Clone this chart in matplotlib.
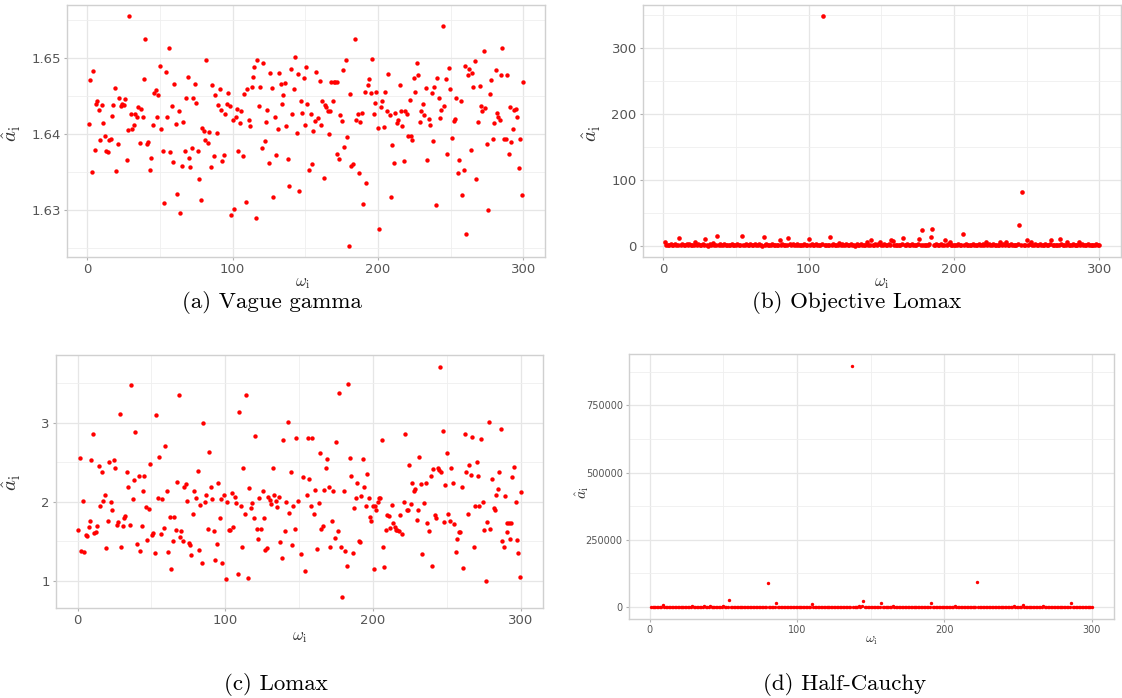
import numpy as np
import matplotlib as mpl
mpl.use('Agg')
import matplotlib.pyplot as plt
from matplotlib.ticker import MultipleLocator, FixedLocator

plt.rcParams['mathtext.fontset'] = 'cm'

# (a) Vague gamma
xa = [1, 2, 3, 4, 5, 6, 7, 8, 9, 10, 11, 12, 13, 14, 15, 16, 17, 18, 19, 20,
      21, 22, 23, 24, 25, 26, 27, 28, 29, 30, 31, 32, 33, 34, 35, 36, 37, 38, 39, 40,
      41, 42, 43, 44, 45, 46, 47, 48, 49, 50, 51, 52, 53, 54, 55, 56, 57, 58, 59, 60,
      61, 62, 63, 64, 65, 66, 67, 68, 69, 70, 71, 72, 73, 74, 75, 76, 77, 78, 79, 80,
      81, 82, 83, 84, 85, 86, 87, 88, 89, 90, 91, 92, 93, 94, 95, 96, 97, 98, 99, 100,
      101, 102, 103, 104, 105, 106, 107, 108, 109, 110, 111, 112, 113, 114, 115, 116, 117, 118, 119, 120,
      121, 122, 123, 124, 125, 126, 127, 128, 129, 130, 131, 132, 133, 134, 135, 136, 137, 138, 139, 140,
      141, 142, 143, 144, 145, 146,
      147.4, 148.0, 149.0, 149.7, 150.2, 151.5, 152.9, 153.8, 154.7, 155.6, 156.8, 157.7, 158.6, 160.0,
      160.9, 161.8, 162.8, 163.7, 164.6, 165.3, 166.0, 167.1, 168.0, 169.0, 169.7, 170.6, 171.5, 172.0,
      172.9, 173.8, 175.0, 176.0, 176.8, 177.9, 179.0, 180.0, 180.9, 181.8, 182.9, 183.9, 184.8, 186.0,
      186.9, 187.8, 189.0, 189.9, 190.8, 192.0, 192.9, 193.8, 194.9, 195.9, 197.0, 197.9, 198.9, 200.0,
      200.9, 201.8, 203.0, 203.9, 204.8, 206.0, 206.9, 208.0, 209.0, 209.9, 210.8, 212.0, 212.9, 214.1,
      215.0, 215.9, 216.8, 217.9, 218.9, 220.0, 220.9, 221.8, 222.8, 223.7, 224.8, 225.7, 226.7, 227.8,
      229.0, 229.9, 230.8, 232.0, 232.9, 233.8, 234.9, 235.9, 237.0, 237.9, 238.9, 239.8, 240.7, 241.8,
      242.8, 243.7, 244.8, 245.7, 246.9, 247.8, 249.0, 249.9, 250.8, 252.0, 252.9, 254.0, 255.0, 255.9,
      257.0, 257.9, 258.9, 260.0, 260.9, 261.8, 263.0, 263.9, 264.8, 265.7, 266.9, 267.8, 269.0, 269.9,
      270.8, 271.7, 272.9, 273.8, 274.7, 275.9, 276.8, 277.7, 278.9, 279.8, 281.0, 281.8, 282.8, 283.9,
      284.8, 285.7, 286.9, 287.8, 289.0, 289.9, 290.8, 291.7, 292.9, 293.8, 294.7, 295.6, 296.8, 297.7,
      298.9, 300.0]
ya = [1.6413, 1.6471, 1.6350, 1.6483, 1.6379, 1.6439, 1.6443, 1.6432, 1.6392, 1.6438,
      1.6414, 1.6398, 1.6377, 1.6376, 1.6392, 1.6394, 1.6424, 1.6438, 1.6461, 1.6351,
      1.6387, 1.6447, 1.6437, 1.6439, 1.6438, 1.6446, 1.6366, 1.6405, 1.6555, 1.6426,
      1.6407, 1.6412, 1.6426, 1.6422, 1.6435, 1.6388, 1.6433, 1.6422, 1.6472, 1.6525,
      1.6387, 1.6389, 1.6353, 1.6369, 1.6412, 1.6454, 1.6458, 1.6422, 1.6451, 1.6490,
      1.6406, 1.6378, 1.6309, 1.6482, 1.6423, 1.6514, 1.6376, 1.6437, 1.6363, 1.6466,
      1.6413, 1.6321, 1.6430, 1.6296, 1.6358, 1.6416, 1.6377, 1.6447, 1.6475, 1.6369,
      1.6356, 1.6381, 1.6447, 1.6466, 1.6441, 1.6378, 1.6341, 1.6313, 1.6408, 1.6404,
      1.6392, 1.6498, 1.6388, 1.6403, 1.6356, 1.6465, 1.6371, 1.6451, 1.6402, 1.6438,
      1.6460, 1.6432, 1.6364, 1.6372, 1.6427, 1.6440, 1.6454, 1.6437, 1.6293, 1.6418,
      1.6301, 1.6423, 1.6433, 1.6377, 1.6414, 1.6430, 1.6371, 1.6453, 1.6310, 1.6459,
      1.6419, 1.6411, 1.6462, 1.6475, 1.6489, 1.6289, 1.6497, 1.6437, 1.6462, 1.6381,
      1.6493, 1.6391, 1.6416, 1.6432, 1.6362, 1.6481, 1.6461, 1.6317, 1.6423, 1.6373,
      1.6407, 1.6480, 1.6466, 1.6439, 1.6451, 1.6467, 1.6411, 1.6367, 1.6332, 1.6486,
      1.6426, 1.6459, 1.6502, 1.6402, 1.6479, 1.6325,
      1.6443, 1.6428, 1.6474, 1.6412, 1.6488, 1.6440, 1.6352, 1.6426, 1.6360, 1.6404,
      1.6417, 1.6482, 1.6421, 1.6470, 1.6412, 1.6443, 1.6342, 1.6438, 1.6436, 1.6431,
      1.6400, 1.6430, 1.6469, 1.6443, 1.6468, 1.6468, 1.6468, 1.6374, 1.6367, 1.6425,
      1.6417, 1.6485, 1.6383, 1.6498, 1.6396, 1.6253, 1.6453, 1.6358, 1.6360, 1.6525,
      1.6418, 1.6427, 1.6349, 1.6416, 1.6428, 1.6308, 1.6456, 1.6336, 1.6464, 1.6472,
      1.6454, 1.6499, 1.6427, 1.6441, 1.6456, 1.6408, 1.6275, 1.6435, 1.6444, 1.6409,
      1.6456, 1.6430, 1.6479, 1.6425, 1.6317, 1.6386, 1.6362, 1.6428, 1.6414, 1.6419,
      1.6465, 1.6431, 1.6411, 1.6365, 1.6431, 1.6426, 1.6397, 1.6445, 1.6397, 1.6392,
      1.6474, 1.6455, 1.6493, 1.6478, 1.6416, 1.6431, 1.6440, 1.6425, 1.6461, 1.6366,
      1.6420, 1.6412, 1.6454, 1.6391, 1.6462, 1.6307, 1.6474, 1.6447, 1.6421, 1.6432,
      1.6542, 1.6437, 1.6472, 1.6374, 1.6487, 1.6460, 1.6395, 1.6417, 1.6420, 1.6447,
      1.6348, 1.6366, 1.6443, 1.6319, 1.6352, 1.6490, 1.6268, 1.6478, 1.6486, 1.6379,
      1.6481, 1.6462, 1.6496, 1.6341, 1.6416, 1.6463, 1.6437, 1.6430, 1.6509, 1.6434,
      1.6387, 1.6300, 1.6453, 1.6471, 1.6394, 1.6415, 1.6484, 1.6428, 1.6422, 1.6418,
      1.6478, 1.6513, 1.6394, 1.6393, 1.6478, 1.6374, 1.6435, 1.6389, 1.6407, 1.6432,
      1.6433, 1.6422, 1.6355, 1.6393, 1.6319, 1.6469]

# (b) Objective Lomax, one value per index 1..300
yb = [6.6, 2.1, 1.4, 0.9, 2.8, 1.7, 1.2, 3.1, 0.8, 1.9, 11.7, 1.5, 2.4, 1.1, 0.7, 2.2, 1.6, 3.0, 1.3, 0.9,
      1.8, 5.6, 1.2, 2.5, 0.8, 1.4, 2.9, 1.1, 10.2, 1.7, 0.6, 2.3, 1.5, 4.6, 1.0, 2.0, 14.7, 1.3, 2.6, 0.9,
      1.6, 3.2, 1.1, 0.7, 2.1, 1.4, 2.7, 0.9, 1.8, 1.2, 2.4, 0.8, 1.5, 15.2, 2.0, 1.1, 3.0, 0.7, 1.6, 2.2,
      1.3, 0.9, 2.5, 1.7, 1.0, 2.8, 1.4, 0.6, 13.2, 1.9, 2.3, 1.2, 0.8, 1.6, 2.9, 1.1, 1.5, 2.0, 0.9, 8.6,
      1.4, 2.6, 1.0, 1.8, 0.7, 12.7, 2.2, 1.3, 3.1, 0.9, 1.6, 2.4, 1.1, 0.8, 2.0, 1.5, 2.7, 1.2, 0.9, 10.2,
      1.7, 2.3, 1.0, 1.4, 2.9, 0.8, 1.9, 1.2, 2.5, 348.0, 1.1, 1.6, 2.1, 0.7, 14.2, 1.3, 2.8, 1.0, 1.8, 0.9,
      4.6, 1.5, 2.2, 1.1, 0.8, 2.6, 1.4, 1.9, 3.0, 1.0, 1.7, 0.6, 2.3, 1.2, 1.5, 2.7, 0.9, 1.8, 1.3, 6.6,
      2.0, 1.1, 9.6, 1.6, 0.8, 2.4, 1.3, 2.9, 5.6, 1.0, 1.7, 2.2, 0.9, 1.4, 2.6, 1.2, 9.6, 7.6, 1.5, 2.1,
      0.8, 1.9, 1.3, 2.7, 12.2, 1.0, 1.6, 2.3, 0.7, 1.4, 2.8, 1.1, 1.8, 0.9, 2.5, 10.7, 1.2, 23.9, 1.6, 2.0,
      0.9, 1.4, 2.6, 13.7, 25.9, 1.1, 1.7, 2.2, 0.8, 1.5, 3.0, 1.0, 1.9, 8.6, 1.3, 2.4, 6.1, 0.9, 1.6, 2.1,
      1.2, 0.8, 2.7, 1.4, 1.9, 18.8, 1.0, 2.3, 1.5, 0.7, 2.0, 1.3, 2.9, 1.1, 1.6, 0.9, 2.4, 1.2, 1.8, 2.6,
      1.0, 5.6, 1.4, 2.2, 0.8, 1.7, 2.8, 1.1, 1.5, 2.0, 0.9, 6.1, 1.3, 2.5, 1.0, 5.6, 1.8, 1.2, 2.3, 0.7,
      1.6, 2.1, 1.1, 2.7, 31.5, 1.4, 81.7, 0.9, 1.9, 9.1, 1.3, 2.4, 6.6, 1.0, 1.7, 2.2, 0.8, 1.5, 2.9, 1.2,
      1.8, 0.9, 2.3, 1.4, 1.1, 2.6, 9.6, 1.0, 1.6, 2.0, 0.8, 1.3, 10.7, 2.5, 1.2, 1.7, 0.9, 6.6, 2.1, 1.4,
      1.0, 2.8, 1.5, 0.8, 1.9, 5.6, 1.2, 2.3, 1.1, 1.6, 0.7, 2.4, 1.3, 1.8, 2.0, 0.9, 1.5, 2.6, 1.1, 1.7]

# (c) Lomax
xc = [0.4, 1.6, 2.5, 3.6, 4.7, 5.6, 6.7, 7.6, 8.5, 9.4, 10.5, 11.4, 12.6, 13.5, 14.6, 15.5, 16.6, 17.5,
      18.6, 19.5, 20.4, 21.3, 22.4, 23.5, 24.4, 25.3, 26.5, 27.4, 28.5, 29.4, 30.5, 31.4, 32.3, 33.2, 34.3,
      35.4, 36.3, 37.4, 38.3, 39.2, 40.4, 41.3, 42.4, 43.3, 44.4, 45.3, 46.4, 47.3, 48.4, 49.3, 50.4, 51.3,
      52.2, 53.4, 54.3, 55.4, 56.3, 57.4, 58.3, 59.4, 60.3, 61.4, 62.3, 63.5, 64.3, 65.2, 66.4, 67.5, 68.4,
      69.3, 70.2, 71.3, 72.2, 73.1, 74.2, 75.1, 76.0, 77.1, 78.0, 79.1, 80.0, 81.2, 82.3, 83.2, 84.1, 85.2,
      86.1, 87.2, 88.1, 89.2, 90.1, 91.3, 92.2, 93.0, 94.2, 95.1, 96.2, 97.1, 98.0, 99.1, 100.2, 101.3,
      102.2, 103.4, 104.3, 105.2, 106.3, 107.2, 108.3, 109.2, 110.3, 111.4, 112.3, 113.2, 114.3, 115.2,
      116.1, 117.3, 118.2, 119.3, 120.2, 121.3, 122.2, 123.1, 124.2, 125.3, 126.2, 127.1, 128.3, 129.1,
      130.3, 131.2, 132.1, 133.2, 134.1, 135.2, 136.1, 137.2, 138.1, 139.2, 140.1, 141.3, 142.2, 143.0,
      144.2, 145.1, 146.0, 147.1, 148.0, 149.1,
      151.4, 152.7, 153.9, 155.0, 156.1, 156.8, 158.0, 158.9, 159.8, 160.9, 161.8, 163.2, 163.9, 165.0,
      166.1, 167.0, 168.2, 169.1, 170.0, 170.9, 172.0, 173.0, 174.1, 175.2, 176.1, 177.0, 178.0, 179.1,
      180.2, 181.1, 182.3, 183.2, 184.1, 185.0, 186.1, 187.0, 188.2, 189.1, 190.2, 191.1, 192.0, 193.0,
      194.1, 195.0, 196.1, 197.3, 198.0, 198.9, 200.0, 200.7, 201.4, 202.3, 203.2, 204.1, 205.0, 205.9,
      206.8, 207.7, 208.6, 209.5, 210.5, 211.6, 212.7, 213.6, 214.5, 215.5, 216.4, 217.5, 218.4, 219.5,
      220.7, 221.8, 222.7, 223.6, 224.5, 225.7, 226.6, 227.5, 228.4, 229.5, 230.5, 231.4, 232.5, 233.4,
      234.3, 235.5, 236.4, 237.7, 238.9, 239.8, 240.7, 241.8, 242.5, 243.6, 244.8, 245.0, 245.9, 247.0,
      247.7, 248.9, 249.8, 250.7, 251.8, 252.7, 253.9, 254.8, 255.9, 256.8, 258.0, 258.9, 260.0, 260.9,
      262.0, 263.2, 264.1, 265.2, 266.1, 267.0, 268.0, 269.1, 270.2, 271.1, 272.0, 273.0, 274.1, 275.0,
      276.1, 277.3, 278.4, 279.3, 280.7, 281.8, 282.7, 283.4, 284.3, 285.5, 286.4, 287.5, 288.4, 289.5,
      290.5, 290.9, 292.0, 292.7, 293.2, 294.1, 295.2, 296.4, 297.3, 298.4, 299.5, 300.0]
yc = [1.64, 2.55, 1.38, 2.01, 1.36, 1.58, 1.57, 1.68, 1.75, 2.53, 2.86, 1.60, 1.61, 1.69, 2.45, 1.94, 2.37, 2.01,
      2.08, 1.41, 1.76, 2.50, 2.00, 1.90, 2.53, 2.43, 1.71, 1.74, 3.11, 1.43, 1.69, 1.79, 1.82, 2.38, 2.19,
      1.71, 3.47, 2.03, 2.27, 2.88, 1.47, 2.33, 1.37, 1.69, 2.13, 2.33, 1.93, 1.52, 1.91, 2.48, 1.58, 1.60,
      1.35, 3.10, 2.04, 2.56, 1.59, 2.03, 1.67, 2.71, 2.13, 1.36, 1.80, 1.15, 1.50, 1.81, 1.64, 2.25, 3.35,
      1.55, 1.63, 1.50, 2.18, 2.22, 2.01, 1.48, 1.45, 1.32, 1.84, 2.14, 2.05, 2.39, 1.39, 1.96, 1.22, 3.00,
      2.00, 2.08, 1.66, 2.63, 2.19, 2.03, 1.63, 1.26, 1.47, 2.23, 1.79, 2.03, 1.23, 2.09, 1.02, 2.00,
      1.64, 1.64, 2.11, 1.68, 2.06, 1.98, 1.08, 3.14, 1.95, 1.42, 2.43, 1.85, 3.35, 1.04,
      2.17, 1.92, 1.98, 1.79, 2.83, 1.65, 1.53, 2.04, 1.65, 2.14, 1.79, 1.39, 1.41, 2.06,
      2.02, 1.97, 2.43, 2.08, 2.01, 1.93, 2.06, 1.49, 1.29, 2.78, 1.63, 2.00, 3.01, 1.86,
      2.37, 1.45, 1.95, 1.65, 2.81, 2.01,
      1.34, 2.31, 1.12, 2.08, 2.81, 2.29, 1.94, 2.80, 1.84, 2.15, 1.40, 1.98, 2.61, 1.66,
      1.69, 2.15, 2.42, 2.54, 2.19, 1.43, 1.76, 2.13, 1.54, 2.76, 1.63, 3.38, 1.43, 0.80,
      2.13, 1.38, 1.19, 3.49, 2.55, 2.32, 1.35, 1.92, 2.04, 2.23, 1.50, 1.49, 2.07, 2.54,
      2.19, 1.95, 2.35, 2.05, 1.80, 1.76, 1.95, 1.15, 1.95, 1.90, 1.99, 2.04, 2.05, 2.78,
      1.42, 1.17, 1.64, 1.83, 1.82, 1.67, 1.96, 1.73, 1.68, 1.64, 1.64, 1.63, 1.83, 1.59,
      1.99, 2.85, 1.89, 1.89, 2.46, 1.97, 2.24, 2.13, 2.16, 1.77, 1.89, 2.57, 2.22, 1.34,
      1.98, 2.24, 1.73, 1.63, 2.32, 1.19, 2.41, 1.83, 1.79, 2.42, 2.40, 3.71, 2.38, 2.89,
      1.74, 2.21, 2.62, 1.85, 1.75, 2.42, 2.23, 1.72, 1.36, 1.53, 1.61, 1.61, 2.18, 1.16,
      2.85, 2.37, 1.85, 2.47, 2.34, 2.82, 1.43, 1.94, 2.50, 2.32, 1.95, 2.79, 2.00, 1.64,
      1.00, 1.74, 3.01, 1.66, 2.29, 1.92, 1.90, 2.09, 2.16, 2.38, 2.92, 1.50, 1.42, 2.07,
      1.61, 1.73, 1.73, 1.53, 1.73, 2.31, 2.44, 2.00, 1.52, 1.35, 1.05, 2.12]

# (d) Half-Cauchy, one value per index 1..300
yd = [420, 180, 950, 310, 1200, 260, 640, 150, 8600, 380, 90, 720, 510, 230, 1100, 340, 170, 860, 290, 450,
      130, 680, 240, 920, 360, 110, 570, 200, 3700, 480, 160, 830, 270, 610, 140, 390, 3700, 220, 750, 320,
      2500, 190, 540, 280, 1050, 150, 410, 660, 230, 3700, 350, 120, 790, 27000, 260, 470, 180, 900, 330, 210,
      620, 140, 380, 1150, 250, 520, 170, 730, 300, 110, 460, 880, 200, 340, 590, 160, 1000, 270, 430, 90000,
      190, 650, 310, 1300, 240, 14800, 370, 130, 810, 280, 500, 170, 690, 220, 960, 350, 140, 560, 260, 740,
      180, 420, 1080, 290, 150, 630, 330, 870, 210, 12300, 480, 120, 700, 250, 390, 1020, 160, 540, 300, 820,
      230, 460, 140, 910, 350, 190, 610, 270, 1140, 160, 440, 780, 220, 530, 310, 170, 896000, 990, 250, 680,
      1500, 3000, 400, 4000, 22000, 200, 560, 320, 840, 150, 470, 260, 1060, 190, 620, 340, 13500, 230, 750, 410,
      130, 890, 280, 520, 5000, 170, 660, 240, 1180, 360, 150, 710, 290, 480, 200, 950, 330, 140, 600, 260,
      820, 180, 430, 1250, 270, 550, 160, 690, 310, 220, 14800, 380, 130, 780, 250, 470, 1030, 190, 640, 340,
      160, 900, 280, 510, 210, 730, 5000, 150, 420, 1120, 260, 590, 180, 850, 300, 140, 670, 230, 990, 370,
      200, 92000, 440, 170, 760, 290, 1210, 150, 530, 320, 880, 190, 620, 250, 410, 1070, 140, 700, 270, 460,
      180, 940, 310, 560, 220, 1160, 3700, 160, 650, 280, 490, 210, 8600, 370, 130, 800, 250, 590, 1040, 190,
      430, 720, 170, 1280, 300, 520, 3700, 240, 860, 150, 610, 350, 200, 970, 280, 450, 140, 680, 1090, 230,
      540, 160, 790, 320, 210, 13500, 470, 1020, 180, 630, 260, 910, 150, 400, 740, 290, 1180, 200, 560, 340]
idx = np.arange(1, 301)

W, H = 1122, 698
fig = plt.figure(figsize=(W / 100, H / 100), dpi=100)


def panel(l, t, r, b, x, y, yticks, ystep, tfs, ms):
    ax = fig.add_axes([l / W, 1 - b / H, (r - l) / W, (b - t) / H])
    ax.scatter(x, y, s=ms, c='#ff0000', linewidths=0, zorder=3)
    ax.xaxis.set_major_locator(FixedLocator([0, 100, 200, 300]))
    ax.xaxis.set_minor_locator(FixedLocator([50, 150, 250]))
    ax.yaxis.set_major_locator(FixedLocator(yticks))
    ax.yaxis.set_minor_locator(MultipleLocator(ystep / 2))
    ax.grid(which='major', color='#e6e6e6', lw=0.9)
    ax.grid(which='minor', color='#efefef', lw=0.6)
    ax.set_axisbelow(True)
    for s in ax.spines.values():
        s.set_color('#d0d0d0')
        s.set_linewidth(1.0)
    ax.tick_params(which='major', length=2.5, color='#b0b0b0', labelcolor='#555555',
                   labelsize=tfs, pad=2)
    ax.tick_params(which='minor', length=0)
    return ax


axa = panel(67, 5, 545, 257, xa, ya, [1.63, 1.64, 1.65], 0.01, 9.5, 10)
axa.set_yticklabels(['1.63', '1.64', '1.65'])
axb = panel(643, 5, 1121, 257, idx, yb, [0, 100, 200, 300], 100, 9.5, 11)
axc = panel(56, 355, 543, 608, xc, yc, [1, 2, 3], 1, 9.5, 10)
axd = panel(629, 354, 1114, 619, idx, yd, [0, 250000, 500000, 750000], 250000, 7, 6)
axd.set_yticklabels(['0', '250000', '500000', '750000'])

# axis titles
lab = dict(color='#333333', ha='center', va='center')
for (xx, yy, fs) in [(303, 282, 12), (882, 282, 12), (300, 636, 12), (871, 640, 10)]:
    fig.text(xx / W, 1 - yy / H, r'$\omega_{\rm i}$', fontsize=fs, **lab)
for (xx, yy, fs) in [(12, 133, 15), (592, 133, 15), (12, 482, 15), (582, 492, 11)]:
    fig.text(xx / W, 1 - yy / H, r'$\hat{a}_{\rm i}$', fontsize=fs, rotation=90, **lab)

# sub-captions
cap = dict(fontfamily='cmr10', fontsize=16.5, ha='center', va='center', color='black')
fig.text(272 / W, 1 - 302 / H, '(a) Vague gamma', **cap)
fig.text(857 / W, 1 - 302 / H, '(b) Objective Lomax', **cap)
fig.text(276 / W, 1 - 684 / H, '(c) Lomax', **cap)
fig.text(845 / W, 1 - 684 / H, '(d) Half-Cauchy', **cap)

fig.savefig('out.png', dpi=100)
